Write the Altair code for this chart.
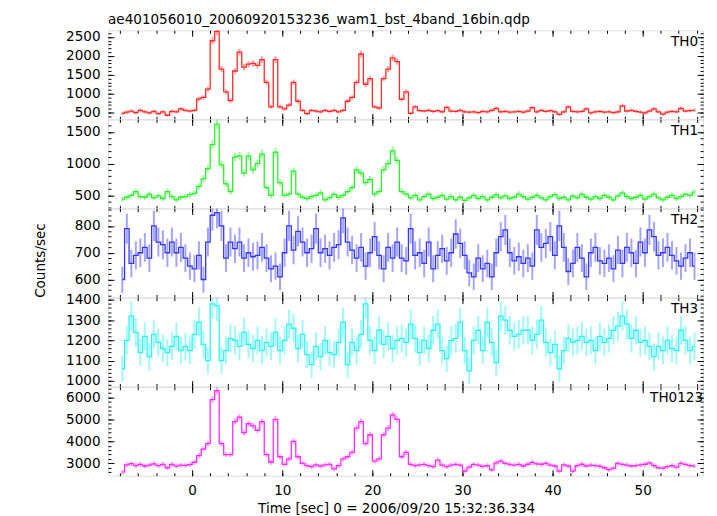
import altair as alt
import numpy as np
import pandas as pd

# ---------------- data (count rates, 0.5 s bins) ----------------
T_FIRST = -7.75          # centre of first bin [s]
BIN = 0.5                # bin width [s]
ERR_EXPO = 0.25          # exposure per original bin, for Poisson error bars

th0 = [480, 510, 540, 500, 560, 520, 490, 530, 470, 520, 430, 530, 520, 600, 560, 540,
       560, 860, 900, 1120, 2400, 2650, 1650, 1050, 820, 1600, 2100, 1700, 1780, 1800, 1750, 1900,
       1300, 650, 1900, 650, 600, 700, 1300, 800, 560, 470, 560, 540, 520, 560, 530, 560,
       520, 560, 800, 900, 1300, 2050, 1250, 1400, 650, 620, 1400, 1650, 1950, 1850, 850, 1050,
       480, 650, 550, 540, 560, 530, 550, 520, 640, 540, 530, 560, 520, 510, 520, 500,
       530, 520, 560, 610, 520, 530, 510, 520, 530, 510, 540, 630, 520, 560, 530, 550,
       520, 450, 520, 650, 530, 520, 530, 600, 490, 520, 530, 510, 520, 500, 520, 680,
       540, 560, 530, 510, 490, 540, 600, 520, 460, 510, 530, 520, 610, 540, 550, 560]

th1 = [440, 470, 500, 560, 480, 470, 520, 460, 490, 450, 560, 480, 430, 470, 480, 510,
       530, 640, 760, 920, 1300, 1620, 980, 680, 560, 1100, 1120, 850, 1120, 900, 1000, 1150,
       620, 500, 1180, 700, 500, 520, 880, 520, 470, 450, 480, 500, 540, 430, 460, 520,
       470, 500, 560, 620, 900, 850, 700, 750, 520, 560, 900, 1000, 1200, 1050, 560, 520,
       460, 500, 430, 480, 520, 450, 470, 500, 440, 480, 430, 470, 420, 460, 500, 450,
       480, 430, 470, 510, 460, 490, 450, 470, 520, 480, 440, 470, 500, 460, 430, 480,
       510, 450, 470, 430, 490, 460, 520, 470, 440, 480, 450, 500, 470, 430, 490, 540,
       480, 450, 470, 500, 440, 480, 520, 460, 430, 470, 500, 450, 480, 520, 500, 550]

th2 = [600, 790, 660, 690, 700, 720, 680, 800, 740, 730, 700, 740, 700, 720, 680, 650,
       640, 690, 600, 740, 840, 850, 800, 680, 740, 715, 740, 680, 700, 685, 690, 720,
       680, 640, 650, 610, 700, 800, 710, 780, 740, 700, 715, 790, 700, 715, 690, 720,
       730, 830, 740, 710, 680, 720, 650, 700, 760, 690, 640, 720, 680, 740, 680, 670,
       790, 690, 700, 660, 740, 640, 690, 715, 670, 700, 770, 735, 690, 625, 610, 680,
       640, 660, 610, 700, 760, 785, 700, 670, 685, 660, 680, 650, 785, 720, 735, 760,
       690, 800, 720, 630, 660, 720, 680, 610, 700, 720, 670, 660, 680, 640, 710, 660,
       720, 700, 660, 740, 700, 785, 760, 690, 700, 720, 690, 670, 650, 680, 700, 650]

th3 = [1060, 1200, 1320, 1240, 1140, 1220, 1120, 1230, 1190, 1160, 1140, 1170, 1220, 1150, 1170, 1150,
       1230, 1290, 1180, 1100, 1380, 1370, 1100, 1150, 1210, 1200, 1170, 1240, 1180, 1160, 1200, 1150,
       1190, 1170, 1240, 1150, 1200, 1280, 1260, 1160, 1230, 1130, 1080, 1170, 1120, 1200, 1140, 1130,
       1190, 1290, 1080, 1190, 1150, 1230, 1380, 1200, 1150, 1250, 1180, 1220, 1160, 1200, 1210, 1190,
       1280, 1210, 1140, 1200, 1160, 1250, 1280, 1150, 1110, 1200, 1210, 1290, 1150, 1050, 1200, 1250,
       1150, 1290, 1190, 1090, 1320, 1300, 1250, 1220, 1230, 1250, 1250, 1200, 1230, 1300, 1190, 1140,
       1180, 1060, 1150, 1210, 1190, 1200, 1220, 1190, 1200, 1150, 1220, 1190, 1210, 1250, 1270, 1320,
       1280, 1210, 1250, 1190, 1200, 1170, 1120, 1170, 1150, 1200, 1160, 1150, 1250, 1200, 1150, 1170]

th0123 = [2600, 2930, 2990, 2900, 2950, 2880, 2920, 2980, 2900, 2950, 2800, 2950, 2870, 2920, 2910, 2940,
          3050, 3350, 3650, 3900, 5900, 6300, 3900, 3400, 3400, 4900, 5100, 4400, 4800, 4700, 4500, 4900,
          3400, 3050, 5000, 3300, 2950, 3200, 4000, 3300, 3000, 2900, 2850, 2930, 2880, 2930, 2950, 2750,
          2900, 3200, 3300, 3500, 4600, 4900, 3900, 4300, 3100, 3200, 4300, 4600, 5200, 5000, 3300, 3500,
          2950, 2900, 2930, 2950, 2900, 2850, 3150, 2920, 2850, 2920, 2950, 2920, 2650, 2830, 2950, 2920,
          2860, 2900, 2700, 3020, 3100, 3000, 2950, 2920, 2950, 2880, 2960, 3040, 2980, 2960, 3000, 2920,
          2880, 2650, 2930, 2880, 2650, 2900, 2960, 2880, 2920, 2900, 2870, 2800, 2720, 2780, 3000, 2950,
          2920, 2880, 2900, 2930, 2960, 3020, 2900, 2800, 2780, 2850, 2900, 2830, 3000, 2950, 2900, 2880]

panel_names = ["TH0", "TH1", "TH2", "TH3", "TH0123"]
panel_series = [th0, th1, th2, th3, th0123]
panel_colors = ["#ff2a2a", "#2aee2a", "#3535f2", "#2af2f2", "#ff2aff"]
y_domains = [(324, 2676), (295, 1695), (533, 865), (972, 1411), (2440, 6480)]
y_major = [[500, 1000, 1500, 2000, 2500], [500, 1000, 1500], [600, 700, 800],
           [1000, 1100, 1200, 1300, 1400], [3000, 4000, 5000, 6000]]
y_minor_step = [100, 100, 20, 20, 200]
label_right = [596, 596, 596, 596, 601]

x_domain = (-9.34, 56.7)
x_major = [0, 10, 20, 30, 40, 50]
x_minor = list(range(-8, 57, 2))

TITLE = "ae401056010_20060920153236_wam1_bst_4band_16bin.qdp"
XTITLE = "Time [sec] 0 = 2006/09/20 15:32:36.334"
YTITLE = "Counts/sec"

FONT = "DejaVu Sans"
FS = 13.7
W = 601
H = 89.8


def xaxis(orient, major, labels=False, title=None):
    size = 6 if major else 3
    kw = dict(orient=orient, values=x_major if major else x_minor, tickSize=size,
              offset=-size, domain=False, grid=False, labels=labels, ticks=True,
              tickColor="black", tickWidth=1)
    if labels:
        kw.update(labelFont=FONT, labelFontSize=FS, labelColor="black", format="d",
                  labelPadding=8, labelFlush=False, labelOverlap=False)
    if title:
        kw.update(title=title, titleFont=FONT, titleFontSize=FS, titleFontWeight="normal",
                  titleColor="black", titleX=291, titleY=43.5, titleBaseline="alphabetic",
                  titleAlign="center", titleAnchor="middle")
    else:
        kw["title"] = None
    return alt.Axis(**kw)


def yaxis(orient, values, major, labels=False, title=None):
    size = 6 if major else 3
    kw = dict(orient=orient, values=values, tickSize=size, offset=-size, domain=False,
              grid=False, labels=labels, ticks=True, tickColor="black", tickWidth=1)
    if labels:
        kw.update(labelFont=FONT, labelFontSize=FS, labelColor="black", format="d",
                  labelPadding=8, labelFlush=False, labelOverlap=False)
    if title:
        kw.update(title=title, titleFont=FONT, titleFontSize=FS, titleFontWeight="normal",
                  titleColor="black", titleX=-70, titleY=52, titleBaseline="alphabetic",
                  titleAlign="center", titleAngle=270)
    else:
        kw["title"] = None
    return alt.Axis(**kw)


panels = []
n = len(panel_names)
for k in range(n):
    vals = np.array(panel_series[k], dtype=float)
    t = T_FIRST + BIN * np.arange(len(vals))
    err = np.sqrt(vals / ERR_EXPO)
    df = pd.DataFrame({"t": t, "v": vals, "lo": vals - err, "hi": vals + err})
    lo_d, hi_d = y_domains[k]
    minor_vals = list(range(int(np.ceil(lo_d / y_minor_step[k]) * y_minor_step[k]),
                            int(hi_d) + 1, y_minor_step[k]))
    xs = alt.Scale(domain=list(x_domain), nice=False, zero=False)
    ys = alt.Scale(domain=[lo_d, hi_d], nice=False, zero=False)
    last = (k == n - 1)
    col = panel_colors[k]

    base = alt.Chart(df)
    err_layer = base.mark_rule(color=col, opacity=0.45, strokeWidth=2, clip=True).encode(
        x=alt.X("t:Q", scale=xs, axis=xaxis("top", True)),
        y=alt.Y("lo:Q", scale=ys, axis=yaxis("right", y_major[k], True)),
        y2="hi:Q",
    )
    line_layer = base.mark_line(color=col, interpolate="step", strokeWidth=1.3, clip=True).encode(
        x=alt.X("t:Q", scale=xs, axis=xaxis("bottom", True, labels=last,
                                            title=XTITLE if last else None)),
        y=alt.Y("v:Q", scale=ys, axis=yaxis("left", y_major[k], True, labels=True,
                                            title=YTITLE if k == 2 else None)),
    )
    minor_a = base.mark_point(opacity=0, size=1).encode(
        x=alt.X("t:Q", scale=xs, axis=xaxis("bottom", False)),
        y=alt.Y("v:Q", scale=ys, axis=yaxis("left", minor_vals, False)),
    )
    minor_b = base.mark_point(opacity=0, size=1).encode(
        x=alt.X("t:Q", scale=xs, axis=xaxis("top", False)),
        y=alt.Y("v:Q", scale=ys, axis=yaxis("right", minor_vals, False)),
    )
    label = alt.Chart(pd.DataFrame({"name": [panel_names[k]]})).mark_text(
        align="right", baseline="alphabetic", font=FONT, fontSize=FS, color="black"
    ).encode(x=alt.value(label_right[k]), y=alt.value(15.6), text="name:N")

    layers = [err_layer, line_layer, minor_a, minor_b, label]
    if k == 0:
        head = alt.Chart(pd.DataFrame({"title": [TITLE]})).mark_text(
            align="left", baseline="alphabetic", font=FONT, fontSize=FS, color="black"
        ).encode(x=alt.value(0), y=alt.value(-6), text="title:N")
        layers.append(head)

    layer = alt.layer(*layers).resolve_axis(
        x="independent", y="independent"
    ).properties(width=W, height=H)
    panels.append(layer)

chart = alt.vconcat(*panels, spacing=0, bounds="flush").properties(
    padding={"left": 25, "top": 2, "right": 5, "bottom": 0}
).configure_view(stroke="black", strokeWidth=1).configure(background="white")

chart.save("out.html", embed_options={"renderer": "svg", "actions": False})
